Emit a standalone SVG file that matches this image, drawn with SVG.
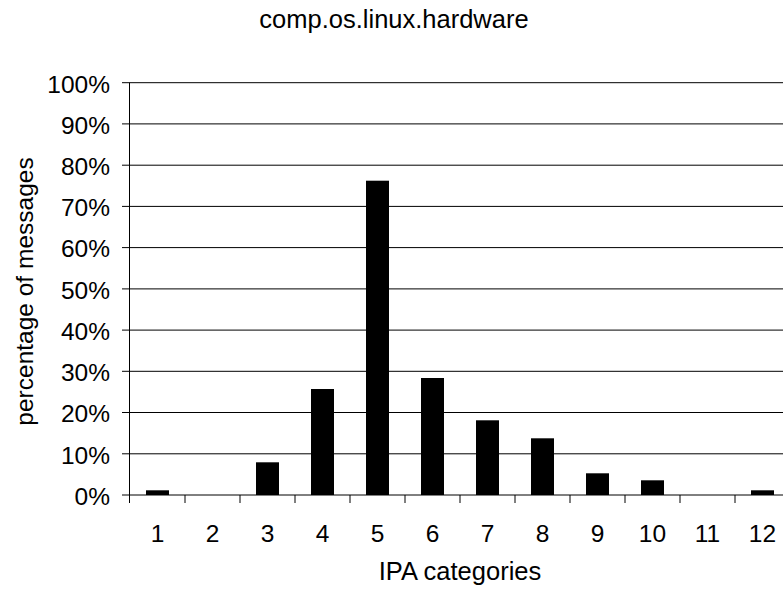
<svg xmlns="http://www.w3.org/2000/svg" width="783" height="590" viewBox="0 0 783 590">
  <style>
    text { font-family: "Liberation Sans", Arial, sans-serif; font-size: 24.5px; fill: #000; }
    .title { font-size: 25.5px; }
    .grid line { stroke: #000; stroke-width: 1; }
    .axis line { stroke: #000; stroke-width: 1; }
    .ylab { text-anchor: end; }
    .xlab { text-anchor: middle; }
    .bar { fill: #000; }
  </style>
  <rect width="783" height="590" fill="#fff"/>

  <!-- chart title -->
  <text id="title" class="title" x="394" y="28" text-anchor="middle">comp.os.linux.hardware</text>

  <!-- horizontal gridlines, 10% steps -->
  <g id="gridlines" class="grid">
    <line x1="122" y1="82.7" x2="790" y2="82.7"/>
    <line x1="122" y1="123.9" x2="790" y2="123.9"/>
    <line x1="122" y1="165.2" x2="790" y2="165.2"/>
    <line x1="122" y1="206.4" x2="790" y2="206.4"/>
    <line x1="122" y1="247.6" x2="790" y2="247.6"/>
    <line x1="122" y1="288.9" x2="790" y2="288.9"/>
    <line x1="122" y1="330.1" x2="790" y2="330.1"/>
    <line x1="122" y1="371.3" x2="790" y2="371.3"/>
    <line x1="122" y1="412.5" x2="790" y2="412.5"/>
    <line x1="122" y1="453.8" x2="790" y2="453.8"/>
  </g>

  <!-- bars: percentage of messages per IPA category -->
  <g id="bars">
    <rect id="bar-1" class="bar" x="146" y="490.3" width="23" height="4.7"/>
    <rect id="bar-3" class="bar" x="256" y="462.3" width="23" height="32.7"/>
    <rect id="bar-4" class="bar" x="311" y="389" width="23" height="106"/>
    <rect id="bar-5" class="bar" x="366" y="180.7" width="23" height="314.3"/>
    <rect id="bar-6" class="bar" x="421" y="378" width="23" height="117"/>
    <rect id="bar-7" class="bar" x="476" y="420.3" width="23" height="74.7"/>
    <rect id="bar-8" class="bar" x="531" y="438.3" width="23" height="56.7"/>
    <rect id="bar-9" class="bar" x="586" y="473.3" width="23" height="21.7"/>
    <rect id="bar-10" class="bar" x="641" y="480.3" width="23" height="14.7"/>
    <rect id="bar-12" class="bar" x="751" y="490.3" width="23" height="4.7"/>
  </g>

  <!-- axes with tick marks -->
  <g id="axes" class="axis">
    <line x1="129.5" y1="82.7" x2="129.5" y2="503"/>
    <line x1="122" y1="495" x2="790" y2="495"/>
    <line x1="185" y1="495" x2="185" y2="503"/>
    <line x1="240" y1="495" x2="240" y2="503"/>
    <line x1="295" y1="495" x2="295" y2="503"/>
    <line x1="350" y1="495" x2="350" y2="503"/>
    <line x1="405" y1="495" x2="405" y2="503"/>
    <line x1="460" y1="495" x2="460" y2="503"/>
    <line x1="515" y1="495" x2="515" y2="503"/>
    <line x1="570" y1="495" x2="570" y2="503"/>
    <line x1="625" y1="495" x2="625" y2="503"/>
    <line x1="680" y1="495" x2="680" y2="503"/>
    <line x1="735" y1="495" x2="735" y2="503"/>
  </g>

  <!-- y-axis tick labels -->
  <g id="y-labels" class="ylab">
    <text x="110" y="92.5">100%</text>
    <text x="110" y="133.7">90%</text>
    <text x="110" y="175">80%</text>
    <text x="110" y="216.2">70%</text>
    <text x="110" y="257.4">60%</text>
    <text x="110" y="298.7">50%</text>
    <text x="110" y="339.9">40%</text>
    <text x="110" y="381.1">30%</text>
    <text x="110" y="422.3">20%</text>
    <text x="110" y="463.6">10%</text>
    <text x="110" y="504.8">0%</text>
  </g>

  <!-- x-axis category labels -->
  <g id="x-labels" class="xlab">
    <text x="157.5" y="542">1</text>
    <text x="212.5" y="542">2</text>
    <text x="267.5" y="542">3</text>
    <text x="322.5" y="542">4</text>
    <text x="377.5" y="542">5</text>
    <text x="432.5" y="542">6</text>
    <text x="487.5" y="542">7</text>
    <text x="542.5" y="542">8</text>
    <text x="597.5" y="542">9</text>
    <text x="652.5" y="542">10</text>
    <text x="707.5" y="542">11</text>
    <text x="762.5" y="542">12</text>
  </g>

  <!-- axis titles -->
  <text id="x-title" class="title" x="460" y="580" text-anchor="middle">IPA categories</text>
  <text id="y-title" transform="translate(33 291.5) rotate(-90)" text-anchor="middle">percentage of messages</text>
</svg>
